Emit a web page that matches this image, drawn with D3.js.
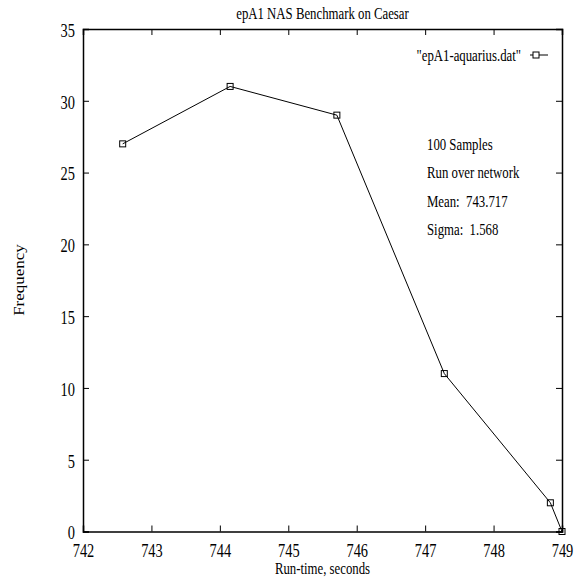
<!DOCTYPE html>
<html>
<head>
<meta charset="utf-8">
<script src="https://cdn.jsdelivr.net/npm/d3@7"></script>
<style>
  body { margin: 0; background: #fff; }
  svg text { font-family: "Liberation Serif", "DejaVu Serif", serif; fill: #000; white-space: pre; }
</style>
</head>
<body>
<div id="chart"></div>
<script>
// histogram of run-times
var runTimes = [742.58, 744.15, 745.71, 747.28, 748.83, 749.0];
var freqs    = [27, 31, 29, 11, 2, 0];
var xTicks   = [742, 743, 744, 745, 746, 747, 748, 749];
var yTicks   = [0, 5, 10, 15, 20, 25, 30, 35];
var notes    = ["100 Samples", "Run over network", "Mean:  743.717", "Sigma:  1.568"];

var W = 586, H = 578;
var margin = {top: 29, right: 24, bottom: 46.5, left: 83};
var width = W - margin.left - margin.right,
    height = H - margin.top - margin.bottom;
var sx = 0.8;      // text in the picture is squeezed sideways
var fs = 16;

var data = runTimes.map(function(t, i) { return {x: t, y: freqs[i]}; });

var xScale = d3.scaleLinear().domain([742, 749]).range([0, width]);
var yScale = d3.scaleLinear().domain([0, 35]).range([height, 0]);

var svg = d3.select("#chart").append("svg")
    .attr("width", W).attr("height", H);
var g = svg.append("g")
    .attr("transform", "translate(" + margin.left + "," + margin.top + ")");

// squeezed text helper
function label(parent, x, y, str, anchor, size) {
  return parent.append("text")
    .attr("transform", "translate(" + x + "," + y + ") scale(" + sx + ",1)")
    .attr("text-anchor", anchor || "start")
    .attr("dy", "0.35em")
    .style("font-size", (size || fs) + "px")
    .text(str);
}

// axes: gnuplot style, inward ticks mirrored on all sides
var tl = 6;
var xAxis = g.append("g").attr("transform", "translate(0," + height + ")")
    .call(d3.axisBottom(xScale).tickValues(xTicks).tickSize(-tl).tickFormat(d3.format("d")));
var xTop = g.append("g")
    .call(d3.axisTop(xScale).tickValues(xTicks).tickSize(-tl).tickFormat(""));
var yAxis = g.append("g")
    .call(d3.axisLeft(yScale).tickValues(yTicks).tickSize(-tl).tickFormat(d3.format("d")));
var yRight = g.append("g").attr("transform", "translate(" + width + ",0)")
    .call(d3.axisRight(yScale).tickValues(yTicks).tickSize(-tl).tickFormat(""));

[xAxis, xTop, yAxis, yRight].forEach(function(a) {
  a.selectAll(".domain").attr("stroke", "#000").attr("stroke-width", 1.5);
  a.selectAll(".tick line").attr("stroke", "#000");
  a.selectAll(".tick text").style("font-size", "18px")
    .style("font-family", "'Liberation Serif', serif");
});
xAxis.selectAll(".tick text")
  .attr("y", null).attr("dy", "0.35em")
  .attr("transform", "translate(0,19) scale(" + sx + ",1)");
yAxis.selectAll(".tick text")
  .attr("x", null).attr("dy", "0.35em")
  .attr("transform", "translate(-8,1) scale(" + sx + ",1)");

// the series
var line = d3.line().x(function(d) { return xScale(d.x); }).y(function(d) { return yScale(d.y); });
g.append("path").datum(data)
  .attr("d", line).attr("fill", "none").attr("stroke", "#000").attr("stroke-width", 1);

g.selectAll("rect.pt").data(data).enter().append("rect")
  .attr("class", "pt")
  .attr("x", function(d) { return xScale(d.x) - 3; })
  .attr("y", function(d) { return yScale(d.y) - 3; })
  .attr("width", 6).attr("height", 6)
  .attr("fill", "none").attr("stroke", "#000").attr("stroke-width", 1);

// legend
var lx = width - 32, ly = 26;
label(g, lx - 9, ly, '"epA1-aquarius.dat"', "end");
g.append("line").attr("x1", lx).attr("x2", lx + 18).attr("y1", ly).attr("y2", ly)
  .attr("stroke", "#000");
g.append("rect").attr("x", lx + 3).attr("y", ly - 3).attr("width", 6).attr("height", 6)
  .attr("fill", "#fff").attr("stroke", "#000");

// annotation block
notes.forEach(function(d, i) {
  label(g, 344, 115 + i * 28.5, d, "start");
});

// title and axis labels
label(svg, margin.left + width / 2, 13, "epA1 NAS Benchmark on Caesar", "middle");
label(svg, margin.left + width / 2, 568, "Run-time, seconds", "middle");
svg.append("text").attr("transform", "translate(19,280) rotate(-90) scale(1," + sx + ")")
  .attr("text-anchor", "middle").attr("dy", "0.35em").style("font-size", "17px")
  .text("Frequency");
</script>
</body>
</html>
